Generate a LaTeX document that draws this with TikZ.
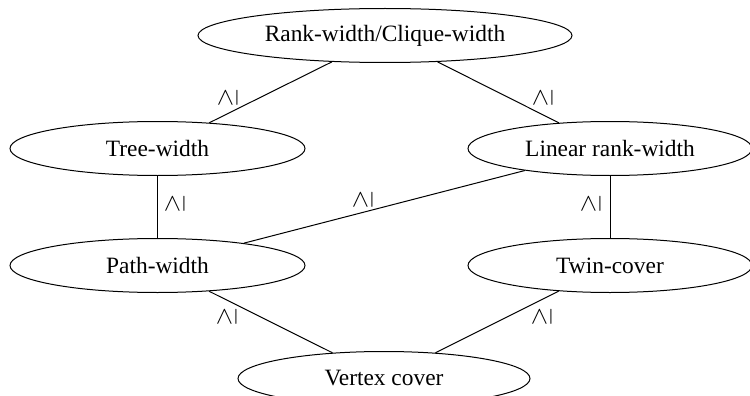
\documentclass[tikz,border=0pt]{standalone}
\usepackage{fontspec}
\setmainfont{Liberation Serif}
\usepackage{tikz}
\usetikzlibrary{shapes.geometric}
\tikzstyle{param}=[draw, ellipse, inner sep=0pt, minimum height=54pt]
\tikzstyle{rel}=[inner sep=0pt]
\newcommand{\rotgeq}{\rotatebox{90}{$\geq$}}

\begin{document}
\begin{tikzpicture}[x=1pt, y=-1pt, line width=1pt, font=\fontsize{23.4}{28}\selectfont]
        \useasboundingbox (0,0) rectangle (750,396);
        \node[param, minimum width=374pt] (RW) at (385,35.5) {Rank-width/Clique-width};
        \node[param, minimum width=295pt] (TW) at (157.5,148.5) {Tree-width};
        \node[param, minimum width=284pt] (LRW) at (610,148.5) {Linear rank-width};
        \node[param, minimum width=295pt] (PW) at (157.5,265.5) {Path-width};
        \node[param, minimum width=284pt] (TC) at (610,265.5) {Twin-cover};
        \node[param, minimum width=292pt] (VC) at (384,378.5) {Vertex cover};
        \draw (RW) -- (TW);
        \draw (RW) -- (LRW);
        \draw (TW) -- (PW);
        \draw (LRW) -- (PW);
        \draw (LRW) -- (TC);
        \draw (PW) -- (VC);
        \draw (TC) -- (VC);
        \node[rel] (r1) at (228,98) {\rotgeq};
        \node[rel] (r2) at (543,98) {\rotgeq};
        \node[rel] (r3) at (175,204) {\rotgeq};
        \node[rel] (r4) at (363,200) {\rotgeq};
        \node[rel] (r5) at (591,204) {\rotgeq};
        \node[rel] (r6) at (227,317) {\rotgeq};
        \node[rel] (r7) at (542,317) {\rotgeq};
    \end{tikzpicture}
\end{document}
